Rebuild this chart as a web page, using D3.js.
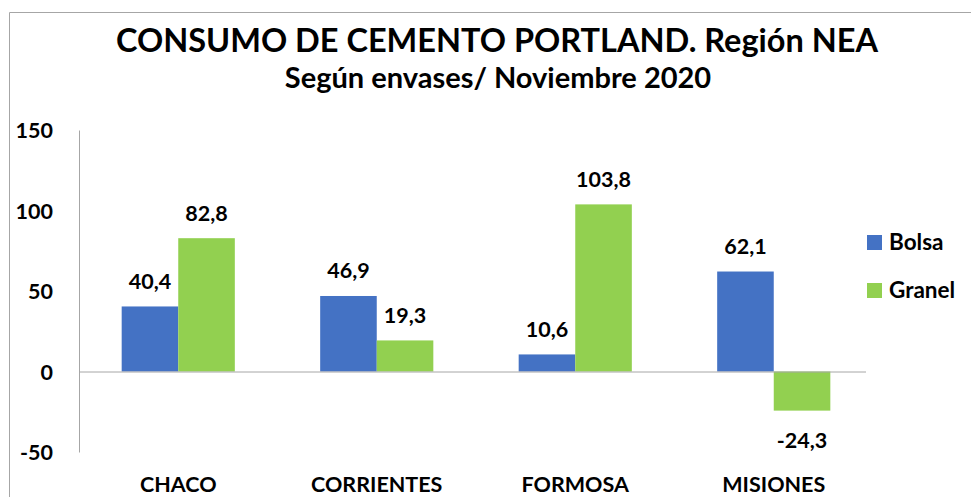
<!DOCTYPE html>
<html>
<head>
<meta charset="utf-8">
<script src="https://cdn.jsdelivr.net/npm/d3@7"></script>
<style>
  body { margin: 0; background: #fff; }
  text { font-family: Lato, "Open Sans", sans-serif; font-weight: bold; fill: #000; }
</style>
</head>
<body>
<div id="chart"></div>
<script>
// data
const provincias = ["CHACO", "CORRIENTES", "FORMOSA", "MISIONES"]
const series = ["Bolsa", "Granel"]
const bolsa = [40.4, 46.9, 10.6, 62.1]
const granel = [82.8, 19.3, 103.8, -24.3]
const yTicks = [150, 100, 50, 0, -50]
const colores = ["#4472C4", "#92D050"]

const W = 971, H = 497

// comma decimals, plain hyphen for negatives
let fmtVal = v => v.toFixed(1).replace(".", ",")
let fmtTick = v => String(v)

let svg = d3.select("#chart").append("svg")
    .attr("width", W)
    .attr("height", H)

// outer border (only top and left visible)
svg.append("path")
    .attr("d", "M9.5," + H + " V12.5 H" + W)
    .attr("fill", "none")
    .attr("stroke", "#a6a6a6")

// titles
svg.append("text")
    .attr("x", 497).attr("y", 52)
    .attr("text-anchor", "middle")
    .attr("font-size", 32.5)
    .text("CONSUMO DE CEMENTO PORTLAND. Región NEA")
svg.append("text")
    .attr("x", 498).attr("y", 88)
    .attr("text-anchor", "middle")
    .attr("font-size", 29)
    .text("Según envases/ Noviembre 2020")

// scales
let x = d3.scaleBand()
    .domain(provincias)
    .range([79, 873])
    .paddingInner(0.43)
    .paddingOuter(0.215)

let xs = d3.scaleBand()
    .domain(series)
    .range([0, x.bandwidth()])

let y = d3.scaleLinear()
    .domain([-50, 150])
    .range([452, 130])

// y axis
let yAxis = svg.append("g")
    .attr("transform", "translate(79,0)")
    .call(d3.axisLeft(y).tickValues(yTicks).tickFormat(fmtTick).tickSize(0).tickPadding(26))
yAxis.select(".domain").attr("stroke", "#a6a6a6")
yAxis.selectAll("text")
    .attr("font-size", 21.5)
    .attr("dy", "0.35em")
    .style("font-family", "Lato, sans-serif")
    .style("font-weight", "bold")

// bars
let rows = provincias.map((p, i) => ({ prov: p, vals: [bolsa[i], granel[i]] }))

let groups = svg.append("g")
    .selectAll("g")
    .data(rows)
    .enter()
    .append("g")
    .attr("transform", d => "translate(" + x(d.prov) + ",0)")

groups.selectAll("rect")
    .data(d => d.vals.map((v, j) => ({ s: series[j], v: v, j: j })))
    .enter()
    .append("rect")
        .attr("x", d => xs(d.s))
        .attr("y", d => y(Math.max(0, d.v)))
        .attr("width", xs.bandwidth())
        .attr("height", d => Math.abs(y(d.v) - y(0)))
        .attr("fill", d => colores[d.j])

groups.selectAll(".lbl")
    .data(d => d.vals.map((v, j) => ({ s: series[j], v: v, j: j })))
    .enter()
    .append("text")
        .attr("class", "lbl")
        .attr("x", d => xs(d.s) + xs.bandwidth() / 2)
        .attr("y", d => d.v < 0 ? y(d.v) + 37.5 : y(d.v) - 17.5)
        .attr("text-anchor", "middle")
        .attr("font-size", 21.5)
        .text(d => fmtVal(d.v))

// zero line
svg.append("line")
    .attr("x1", 79).attr("x2", 866)
    .attr("y1", y(0) + 0.5).attr("y2", y(0) + 0.5)
    .attr("stroke", "#a6a6a6")

// category labels
svg.append("g")
    .selectAll("text")
    .data(provincias)
    .enter()
    .append("text")
        .attr("x", d => x(d) + x.bandwidth() / 2)
        .attr("y", 492)
        .attr("text-anchor", "middle")
        .attr("font-size", 21.5)
        .text(d => d)

// legend
let legend = svg.append("g")
    .selectAll("g")
    .data(series)
    .enter()
    .append("g")
    .attr("transform", (d, i) => "translate(867," + (235 + i * 48) + ")")
legend.append("rect")
    .attr("width", 15).attr("height", 15)
    .attr("fill", (d, i) => colores[i])
legend.append("text")
    .attr("x", 22).attr("y", 15)
    .attr("font-size", 22.5)
    .text(d => d)
</script>
</body>
</html>
